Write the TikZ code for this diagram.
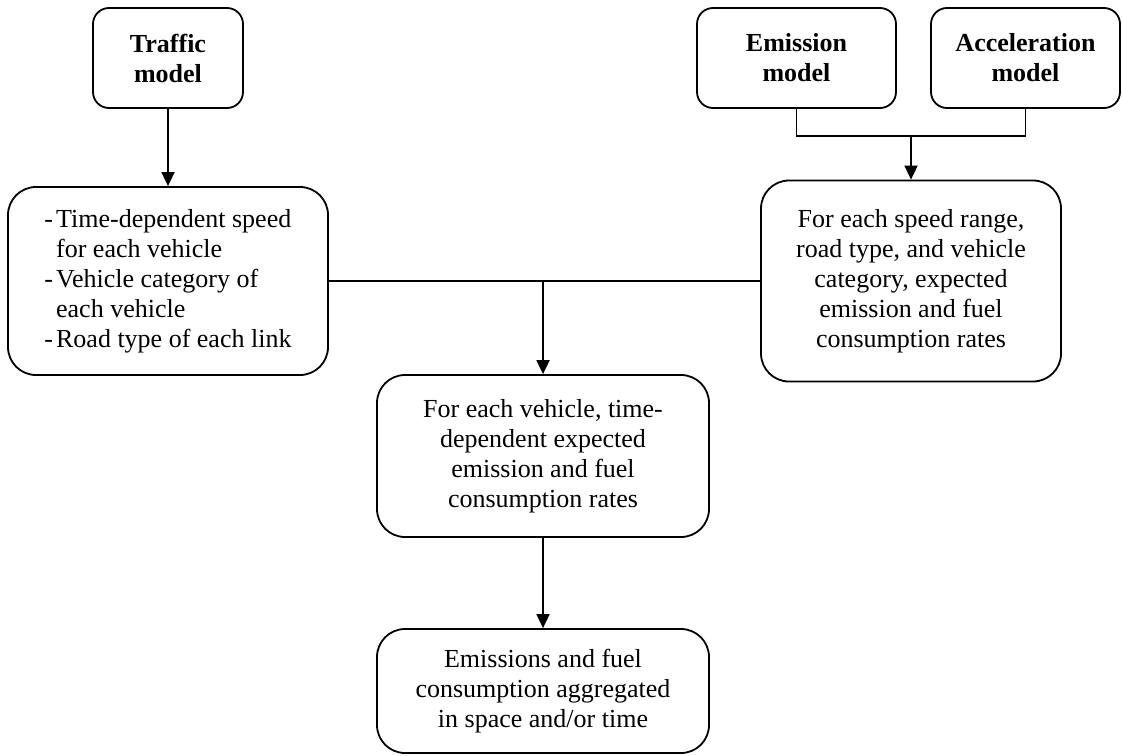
\documentclass[tikz,border=0pt]{standalone}
\usepackage{fontspec}
\setmainfont{Liberation Serif}
\usetikzlibrary{arrows.meta}

\begin{document}
\begin{tikzpicture}[x=0.5pt,y=-0.5pt]
    % Define the styles for the boxes and arrows
    \tikzstyle{model}=[rectangle, rounded corners=8pt, draw=black, line width=0.9pt, font=\fontsize{13pt}{15pt}\selectfont\bfseries, align=center, inner sep=0pt]
    \tikzstyle{process}=[rectangle, rounded corners=14pt, draw=black, line width=0.9pt, font=\fontsize{13pt}{15pt}\selectfont, align=center, inner sep=0pt]
    \tikzstyle{link}=[line width=0.9pt]
    \tikzstyle{arrow}=[line width=0.9pt, -{Triangle[width=6.5pt,length=7pt]}]

    \useasboundingbox (0,0) rectangle (1122,755);

    % Draw the models
    \node[model, minimum width=75pt, minimum height=50pt] (traffic) at (168,58) {Traffic\\model};
    \node[model, minimum width=99.5pt, minimum height=50pt] (emission) at (796.5,58) {Emission\\model};
    \node[model, minimum width=94.5pt, minimum height=50pt] (acceleration) at (1025.5,58) {Acceleration\\model};

    % Draw the processes
    \node[process, minimum width=160pt, minimum height=94pt] (inputs) at (168,281) {\begin{tabular}{@{}l@{\hspace{1.5pt}}l@{}}
        - & Time-dependent speed\\
          & for each vehicle\\
        - & Vehicle category of\\
          & each vehicle\\
        - & Road type of each link
      \end{tabular}};
    \node[process, minimum width=150pt, minimum height=100.5pt] (rates) at (911,281) {For each speed range,\\road type, and vehicle\\category, expected\\emission and fuel\\consumption rates};
    \node[process, minimum width=166pt, minimum height=81pt] (vehicle) at (543,456) {For each vehicle, time-\\dependent expected\\emission and fuel\\consumption rates};
    \node[process, minimum width=166pt, minimum height=62pt] (aggregate) at (543,691) {Emissions and fuel\\consumption aggregated\\in space and/or time};

    % Draw the connectors
    \coordinate (join) at (911,136);
    \coordinate (split) at (543,281);
    \draw[arrow] (traffic) -- (inputs);
    \draw[link] (emission.south) |- (join) -| (acceleration.south);
    \draw[arrow] (join) -- (rates);
    \draw[link] (inputs.east) -- (rates.west);
    \draw[arrow] (split) -- (vehicle);
    \draw[arrow] (vehicle) -- (aggregate);
\end{tikzpicture}
\end{document}
